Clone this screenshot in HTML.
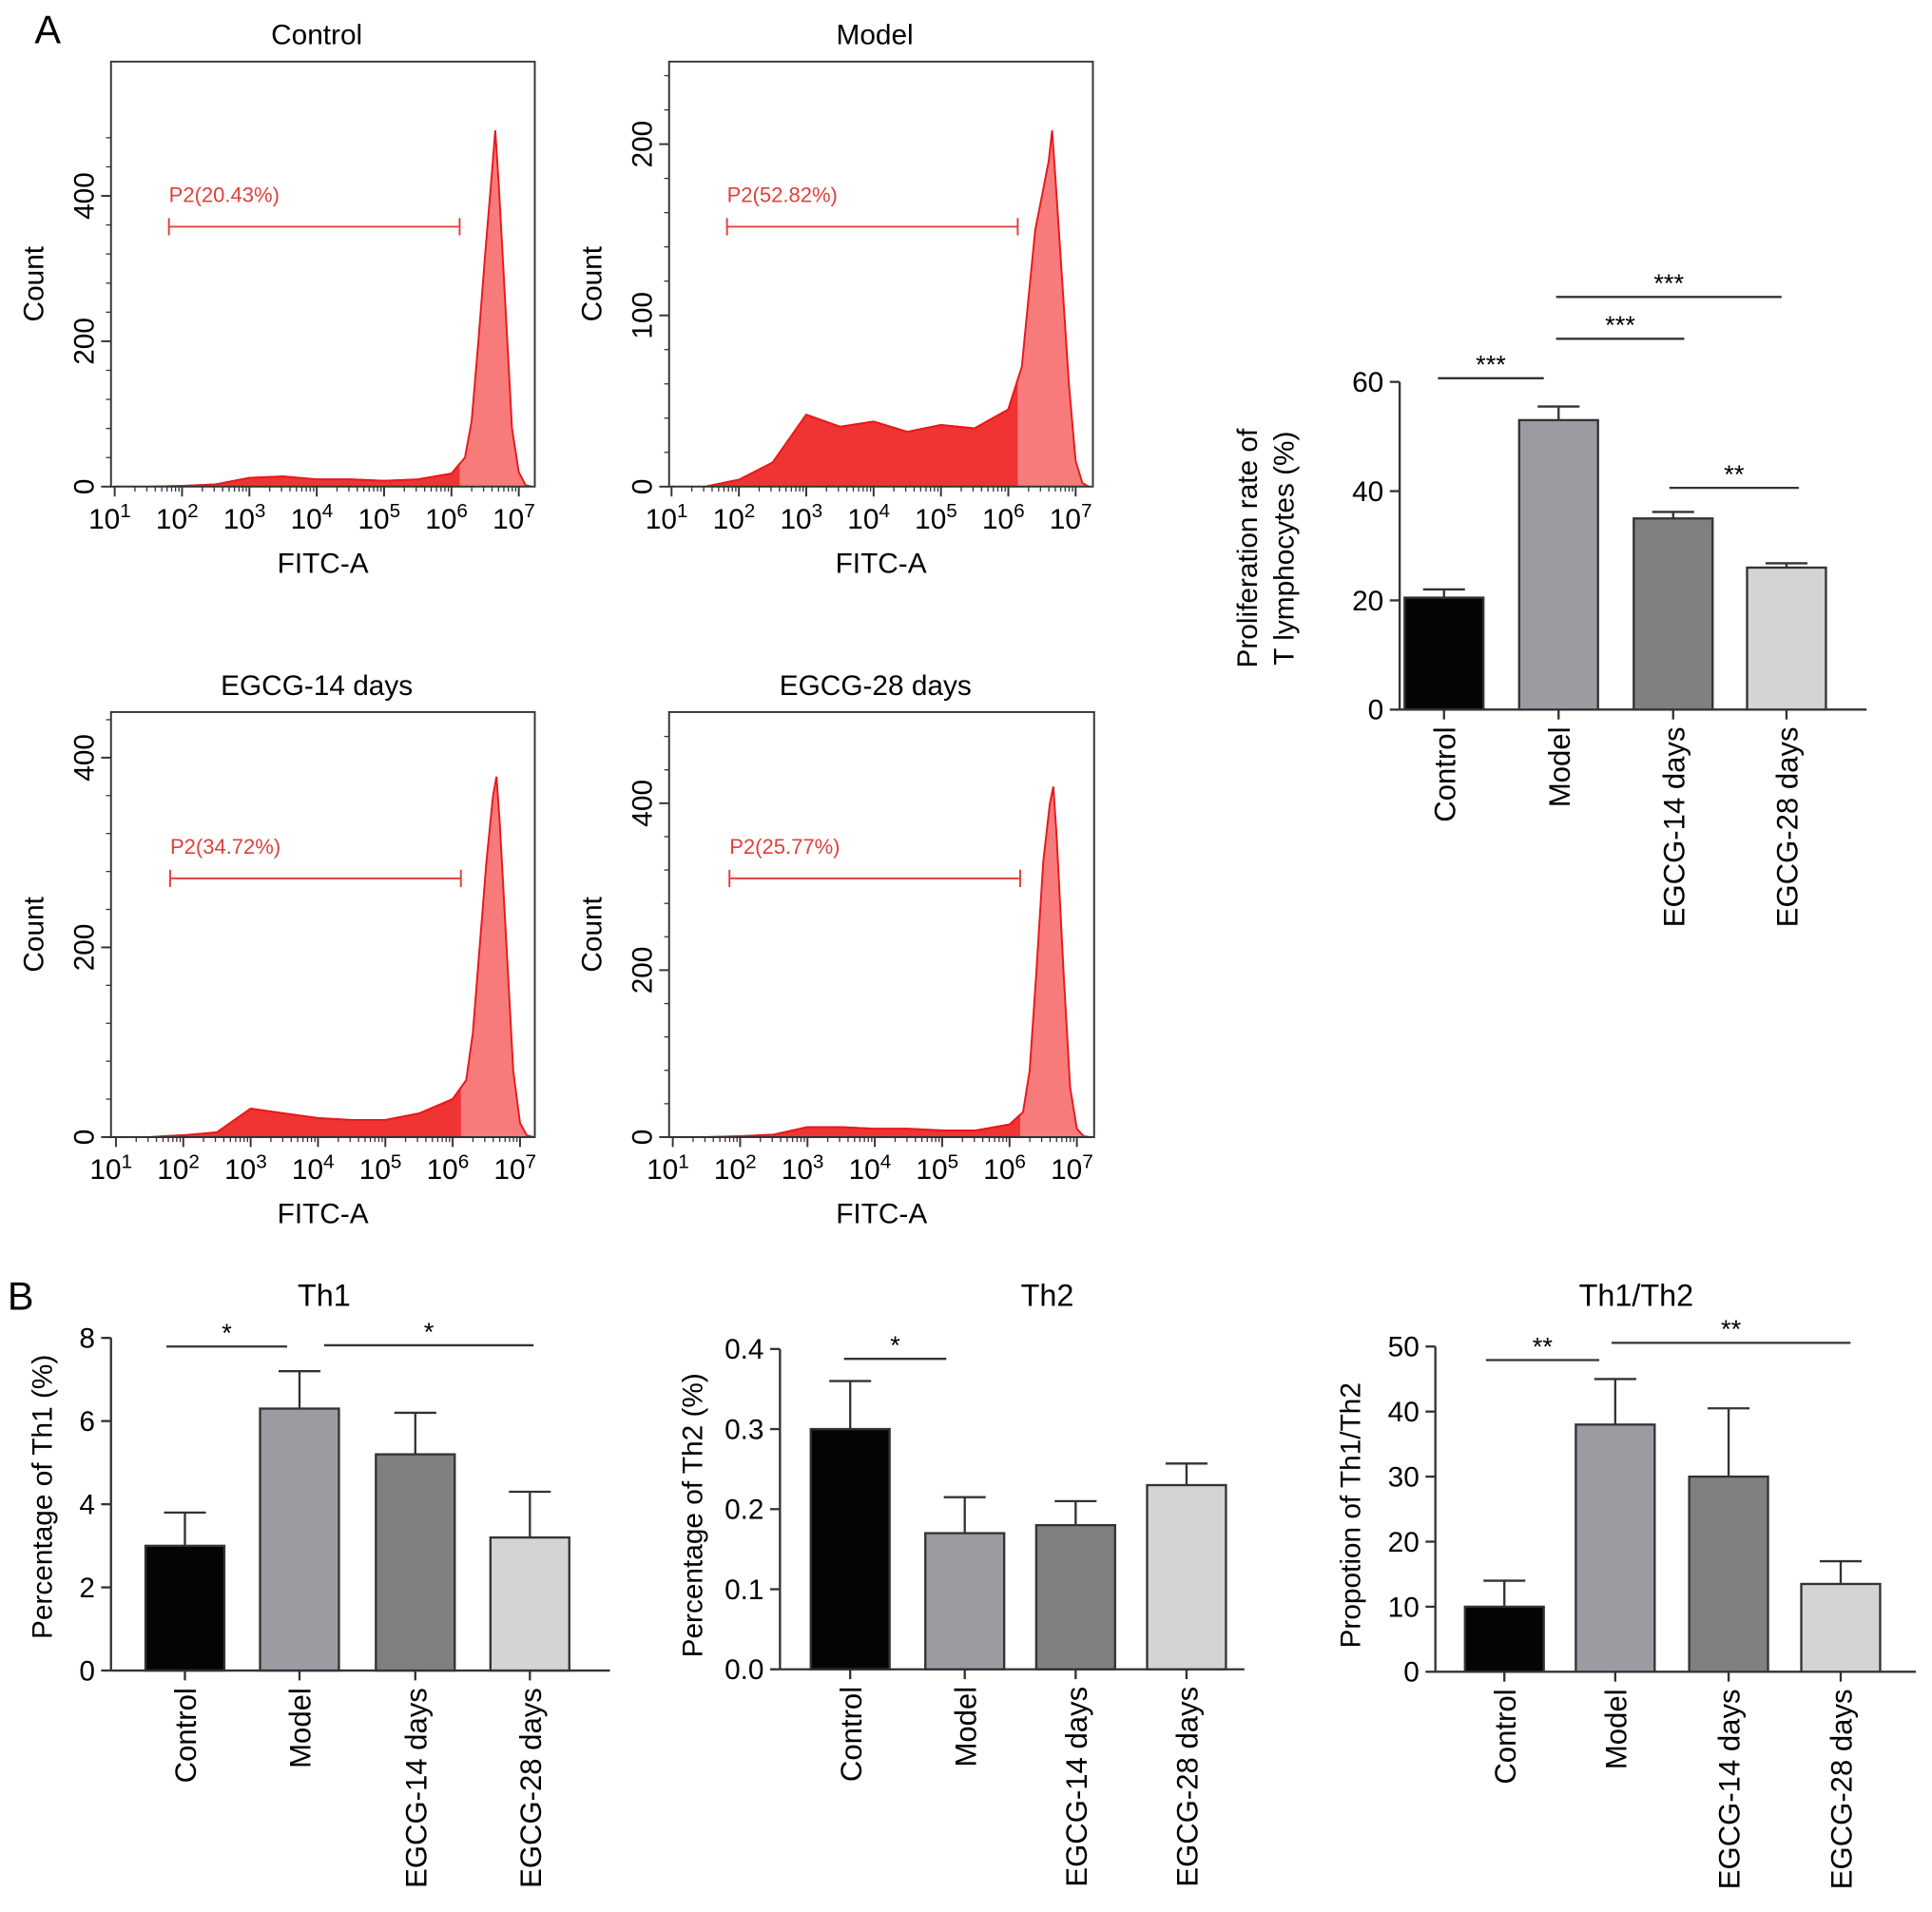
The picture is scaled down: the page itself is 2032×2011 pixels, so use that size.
<!DOCTYPE html>
<html><head><meta charset="utf-8">
<style>
html,body{margin:0;padding:0;background:#fff;}
svg{display:block;font-family:"Liberation Sans",Arial,sans-serif;}
</style></head>
<body>
<svg id="fig" width="2032" height="2011" viewBox="0 0 1568 1552" xmlns="http://www.w3.org/2000/svg">
<text x="28" y="35" font-size="32">A</text>
<text x="6" y="1063" font-size="32">B</text>
</svg>
<script>
// ---- Histogram data (log10 FITC positions and counts) ----
const histLogs = [1,1.5,2,2.5,3,3.5,4,4.5,5,5.5,6,6.2,6.3,6.4,6.5,6.6,6.65,6.7,6.8,6.9,7.0,7.1,7.2];
const histControl = [0,0,1,3,12,14,10,10,8,10,18,40,90,200,320,430,490,420,250,80,20,2,0];
const histModel = [0,0,4,14,42,35,38,32,36,34,45,70,110,150,170,190,208,180,120,60,15,2,0];
const histE14 = [0,0,2,5,30,25,20,18,18,25,40,60,110,200,290,360,380,330,200,70,15,2,0];
const histE28 = [0,0,1,3,12,12,10,10,8,8,15,30,80,200,330,400,420,360,200,60,10,1,0];
const gateLabels = ["P2(20.43%)","P2(52.82%)","P2(34.72%)","P2(25.77%)"];
const histTitles = ["Control","Model","EGCG-14 days","EGCG-28 days"];
const histYTicksA = [0,200,400];
const histYTicksM = [0,100,200];

// ---- Bar chart data ----
const categories = ["Control","Model","EGCG-14 days","EGCG-28 days"];
const prolifValues = [20.5,53,35,26];
const prolifErrors = [1.5,2.5,1.2,0.8];
const prolifTicks = [0,20,40,60];
const th1Values = [3.0,6.3,5.2,3.2];
const th1Errors = [0.8,0.9,1.0,1.1];
const th1Ticks = [0,2,4,6,8];
const th2Values = [0.30,0.17,0.18,0.23];
const th2Errors = [0.06,0.045,0.03,0.027];
const th2Ticks = ["0.0","0.1","0.2","0.3","0.4"];
const ratioValues = [10,38,30,13.5];
const ratioErrors = [4,7,10.5,3.5];
const ratioTicks = [0,10,20,30,40,50];

const NS="http://www.w3.org/2000/svg";
const svg=document.getElementById('fig');
function mk(tag,attrs,parent){const e=document.createElementNS(NS,tag);for(const k in attrs)e.setAttribute(k,attrs[k]);(parent||svg).appendChild(e);return e;}
function txt(s,attrs,parent){const e=mk('text',attrs,parent);e.textContent=s;return e;}

// ---- Histograms ----
const panels=[
 {data:histControl,x0:90,x1:434,yTop:50,yBot:395,lx1:93,lx7:421,ymaxVal:400,ymaxPx:159,ticks:histYTicksA,g0:137,g1:373,gy:184},
 {data:histModel,x0:543,x1:887,yTop:50,yBot:395,lx1:545,lx7:873,ymaxVal:200,ymaxPx:117,ticks:histYTicksM,g0:590,g1:826,gy:184},
 {data:histE14,x0:90,x1:434,yTop:578,yBot:923,lx1:94,lx7:422,ymaxVal:400,ymaxPx:615,ticks:histYTicksA,g0:138,g1:374,gy:713},
 {data:histE28,x0:543,x1:888,yTop:578,yBot:923,lx1:546,lx7:874,ymaxVal:400,ymaxPx:652,ticks:histYTicksA,g0:592,g1:828,gy:713}
];
panels.forEach((p,i)=>{
 const g=mk('g',{});
 
 
 const xs=l=>p.lx1+(l-1)*(p.lx7-p.lx1)/6;
 const ys=v=>p.yBot-v*(p.yBot-p.ymaxPx)/p.ymaxVal;
 const gateLog=1+(p.g1-p.lx1)/((p.lx7-p.lx1)/6);
 let d='M'+xs(histLogs[0])+','+p.yBot;
 histLogs.forEach((l,j)=>{d+=' L'+xs(l).toFixed(1)+','+ys(p.data[j]).toFixed(1);});
 d+=' L'+xs(histLogs[histLogs.length-1])+','+p.yBot+' Z';
 const cid='clip'+i;
 const cp=mk('clipPath',{id:cid},g);mk('rect',{x:p.x0,y:p.yTop,width:p.x1-p.x0,height:p.yBot-p.yTop},cp);
 const cid2='clipg'+i;
 const cp2=mk('clipPath',{id:cid2},g);mk('rect',{x:p.x0,y:p.yTop,width:xs(gateLog)-p.x0,height:p.yBot-p.yTop},cp2);
 const a=mk('path',{d:d,fill:'#f77b7b',stroke:'#e8191c','stroke-width':1.5,'clip-path':'url(#'+cid+')'},g);
 
 const b=mk('path',{d:d,fill:'#f03333',stroke:'#e8191c','stroke-width':1.5,'clip-path':'url(#'+cid2+')'},g);
 
 mk('path',{d:`M${p.x0},${p.yBot} L${p.x0},${p.yTop} L${p.x1},${p.yTop} L${p.x1},${p.yBot} Z`,fill:'none',stroke:'#333','stroke-width':1.5},g);
 for(let v=0;v<=p.ymaxVal*1.2;v+=p.ymaxVal/10){const y=ys(v);if(y<p.yTop)break;mk('line',{x1:p.x0-4,x2:p.x0,y1:y,y2:y,stroke:'#333'},g);}
 p.ticks.forEach(t=>{const y=ys(t);mk('line',{x1:p.x0-8,x2:p.x0,y1:y,y2:y,stroke:'#333','stroke-width':1.5},g);
  const e=txt(String(t),{x:p.x0-14,y:y,'font-size':23,'text-anchor':'middle',transform:`rotate(-90 ${p.x0-14} ${y})`},g);});
 for(let dcd=1;dcd<=7;dcd++){const x=xs(dcd);mk('line',{x1:x,x2:x,y1:p.yBot,y2:p.yBot+8,stroke:'#333','stroke-width':1.5},g);
  if(dcd<7)for(let m=2;m<10;m++){const xm=xs(dcd+Math.log10(m));mk('line',{x1:xm,x2:xm,y1:p.yBot,y2:p.yBot+4,stroke:'#333'},g);}
  const e=txt('10',{x:x-4,y:p.yBot+34,'font-size':23,'text-anchor':'middle'},g);
  const s=mk('tspan',{dy:-9,'font-size':16},e);s.textContent=String(dcd);}
 const xt=txt('FITC-A',{x:(p.x0+p.x1)/2,y:p.yBot+70,'font-size':23,'text-anchor':'middle'},g);
 const yx=p.x0-55,yc=(p.yTop+p.yBot)/2+8;
 const yt=txt('Count',{x:yx,y:yc,'font-size':23,'text-anchor':'middle',transform:`rotate(-90 ${yx} ${yc})`},g);
 const tt=txt(histTitles[i],{x:(p.x0+p.x1)/2-5,y:p.yTop-14,'font-size':23,'text-anchor':'middle'},g);
 const gg=mk('g',{},g);
 mk('line',{x1:p.g0,x2:p.g1,y1:p.gy,y2:p.gy,stroke:'#e0403c','stroke-width':1.5},gg);
 mk('line',{x1:p.g0,x2:p.g0,y1:p.gy-7,y2:p.gy+7,stroke:'#e0403c','stroke-width':1.5},gg);
 mk('line',{x1:p.g1,x2:p.g1,y1:p.gy-7,y2:p.gy+7,stroke:'#e0403c','stroke-width':1.5},gg);
 const gl=txt(gateLabels[i],{x:p.g0,y:p.gy-20,'font-size':17,fill:'#e0403c'},gg);
});

// ---- Bar charts ----
const fills=['#050505','#9b9ba1','#808080','#d4d4d4'];
function barChart(o){
 const g=mk('g',{});
 
 
 const ys=v=>o.y0-v*(o.y0-o.yMaxPx)/o.maxV;
 mk('line',{x1:o.ax,x2:o.ax,y1:o.y0,y2:o.yMaxPx,stroke:'#333','stroke-width':1.8},g);
 mk('line',{x1:o.ax,x2:o.xEnd,y1:o.y0,y2:o.y0,stroke:'#333','stroke-width':1.8},g);
 o.ticks.forEach(t=>{const y=ys(parseFloat(t));mk('line',{x1:o.ax-8,x2:o.ax,y1:y,y2:y,stroke:'#333','stroke-width':1.8},g);
  const e=txt(String(t),{x:o.ax-13,y:y+8,'font-size':23,'text-anchor':'end'},g);});
 o.values.forEach((v,i)=>{const cx=o.cx[i];
  const top=ys(v),etop=ys(v+o.errs[i]);
  mk('line',{x1:cx,x2:cx,y1:top,y2:etop,stroke:'#333','stroke-width':1.8},g);
  mk('line',{x1:cx-17,x2:cx+17,y1:etop,y2:etop,stroke:'#333','stroke-width':1.8},g);
  const r=mk('rect',{x:cx-o.bw/2,y:top,width:o.bw,height:o.y0-top,fill:fills[i],stroke:'#333','stroke-width':1.8},g);
  
  
  mk('line',{x1:cx,x2:cx,y1:o.y0,y2:o.y0+8,stroke:'#333','stroke-width':1.8},g);
  const ly=o.y0+14;
  const l=txt(categories[i],{x:cx+9,y:ly,'font-size':24,'text-anchor':'end',transform:`rotate(-90 ${cx+9} ${ly})`},g);
  
 });
 o.ytitle.forEach((s,k)=>{const x=o.ytx+k*30,y=o.yty;
  const e=txt(s,{x:x,y:y,'font-size':23,'text-anchor':'middle',transform:`rotate(-90 ${x} ${y})`},g);});
 if(o.title){const e=txt(o.title,{x:o.tx,y:1060,'font-size':25,'text-anchor':'middle'},g);}
 o.sig.forEach(s=>{const sg=mk('g',{},g);
  mk('line',{x1:s[0],x2:s[1],y1:s[2],y2:s[2],stroke:'#333','stroke-width':1.8},sg);
  txt(s[3],{x:(s[0]+s[1])/2,y:s[2]-4,'font-size':21,'text-anchor':'middle'},sg);});
}
barChart({name:'proliferation-chart',ax:1136,xEnd:1515,y0:576,yMaxPx:310,maxV:60,ticks:prolifTicks,values:prolifValues,errs:prolifErrors,cx:[1172,1265,1358,1450],bw:64,
 ytitle:['Proliferation rate of','T lymphocytes (%)'],ytx:1020,yty:445,sig:[[1167,1253,307,'***'],[1263,1367,275,'***'],[1263,1446,241,'***'],[1355,1460,396,'**']]});
barChart({name:'th1-chart',title:'Th1',tx:263,ax:90,xEnd:495,y0:1356,yMaxPx:1086,maxV:8,ticks:th1Ticks,values:th1Values,errs:th1Errors,cx:[150,243,337,430],bw:64,
 ytitle:['Percentage of Th1 (%)'],ytx:42,yty:1215,sig:[[135,233,1093,'*'],[263,433,1092,'*']]});
barChart({name:'th2-chart',title:'Th2',tx:850,ax:633,xEnd:1010,y0:1355,yMaxPx:1095,maxV:0.4,ticks:th2Ticks,values:th2Values,errs:th2Errors,cx:[690,783,873,963],bw:64,
 ytitle:['Percentage of Th2 (%)'],ytx:570,yty:1230,sig:[[685,768,1103,'*']]});
barChart({name:'th1-th2-ratio-chart',title:'Th1/Th2',tx:1328,ax:1165,xEnd:1555,y0:1357,yMaxPx:1093,maxV:50,ticks:ratioTicks,values:ratioValues,errs:ratioErrors,cx:[1221,1311,1403,1494],bw:64,
 ytitle:['Propotion of Th1/Th2'],ytx:1104,yty:1230,sig:[[1206,1298,1104,'**'],[1308,1502,1090,'**']]});
</script>
</body></html>
